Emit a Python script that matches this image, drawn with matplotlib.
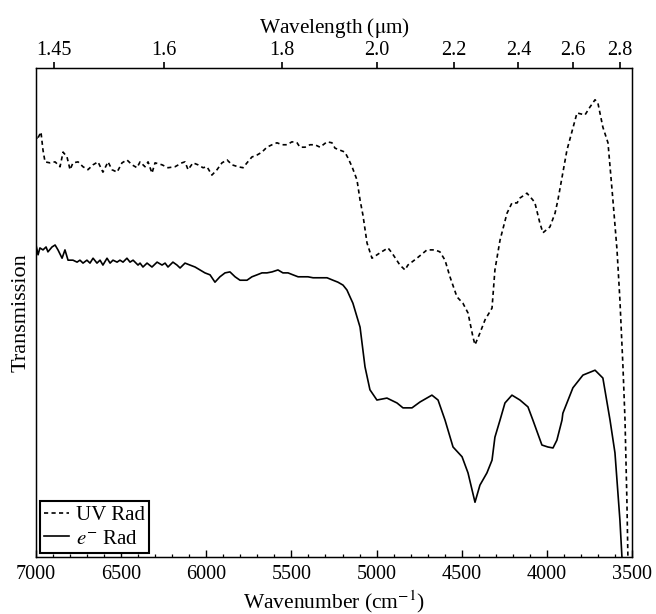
import numpy as np
import matplotlib
matplotlib.use("Agg")
import matplotlib.pyplot as plt

plt.rcParams["font.family"] = ["Liberation Serif", "DejaVu Serif"]
plt.rcParams["mathtext.fontset"] = "stix"

# --- data (wavenumber in cm^-1, transmission in arb. units) ---
uv_wn = [7000, 6994, 6971, 6959, 6947, 6918, 6888, 6859, 6841, 6818, 6800, 6783,
         6753, 6724, 6695, 6665, 6636, 6607, 6577, 6554, 6524, 6495, 6466, 6436,
         6407, 6389, 6360, 6342, 6319, 6301, 6260, 6225, 6184, 6143, 6125, 6107,
         6078, 6049, 6019, 5996, 5967, 5937, 5908, 5878, 5849, 5814, 5784, 5761,
         5732, 5702, 5673, 5644, 5614, 5585, 5555, 5526, 5497, 5467, 5450, 5420,
         5391, 5362, 5332, 5291, 5262, 5244, 5215, 5186, 5168, 5144, 5115, 5097,
         5080, 5056, 5027, 4980, 4933, 4910, 4863, 4833, 4816, 4763, 4704, 4657,
         4628, 4598, 4569, 4528, 4493, 4463, 4434, 4422, 4393, 4363, 4322, 4305,
         4275, 4234, 4205, 4175, 4158, 4117, 4082, 4070, 4041, 4023, 3982, 3952,
         3935, 3882, 3823, 3776, 3747, 3717, 3700, 3671, 3641, 3612, 3588, 3571,
         3553, 3541, 3530, 3524, 3521]
uv_tr = [86.3, 85.3, 86.9, 83.2, 80.8, 80.6, 80.8, 79.8, 82.8, 81.8, 79.2, 80.6,
         80.8, 79.8, 79.2, 80.2, 80.8, 78.7, 80.8, 79.2, 78.7, 80.6, 81.2, 80.2,
         79.6, 80.8, 79.8, 80.8, 78.5, 80.6, 80.2, 79.6, 79.8, 80.6, 80.8, 79.2,
         80.6, 80.2, 79.6, 79.8, 78.1, 79.2, 80.6, 81.2, 80.2, 79.8, 79.6, 80.6,
         81.8, 82.2, 82.8, 83.8, 84.3, 84.7, 84.3, 84.3, 84.9, 84.7, 83.8, 83.8,
         84.3, 84.3, 83.8, 84.9, 84.7, 83.6, 83.2, 82.8, 81.6, 79.8, 77.1, 73.0,
         69.9, 64.2, 61.1, 62.2, 63.2, 62.2, 59.7, 58.7, 59.7, 61.1, 62.8, 62.8,
         62.4, 60.7, 57.3, 53.2, 51.9, 49.9, 45.0, 43.4, 45.8, 48.5, 50.9, 58.7,
         64.8, 70.3, 72.4, 72.4, 73.4, 74.4, 73.0, 72.4, 68.3, 66.3, 67.5, 70.3,
         73.0, 83.2, 90.8, 90.4, 92.0, 93.5, 92.8, 87.9, 84.7, 73.0, 62.8, 52.6,
         38.9, 28.0, 11.7, 0.0, -5.0]

e_wn = [7000, 6988, 6977, 6959, 6941, 6930, 6906, 6888, 6871, 6847, 6830, 6812,
        6783, 6759, 6742, 6724, 6701, 6683, 6665, 6642, 6624, 6607, 6583, 6565,
        6548, 6524, 6507, 6489, 6466, 6448, 6430, 6401, 6389, 6372, 6348, 6319,
        6289, 6260, 6242, 6225, 6196, 6172, 6154, 6125, 6096, 6066, 6037, 6008,
        5978, 5949, 5920, 5890, 5861, 5831, 5802, 5784, 5761, 5732, 5702, 5673,
        5644, 5614, 5579, 5550, 5520, 5491, 5461, 5432, 5403, 5373, 5332, 5291,
        5256, 5227, 5197, 5174, 5156, 5139, 5097, 5068, 5039, 4998, 4939, 4880,
        4845, 4792, 4745, 4675, 4639, 4598, 4551, 4498, 4463, 4422, 4393, 4352,
        4322, 4305, 4275, 4246, 4205, 4158, 4111, 4082, 4029, 3994, 3964, 3941,
        3911, 3906, 3847, 3788, 3717, 3671, 3629, 3600, 3571, 3559, 3553]
e_tr = [63.8, 61.8, 63.2, 62.8, 63.4, 62.4, 63.4, 63.8, 62.8, 61.1, 62.8, 60.7,
        60.7, 60.3, 60.7, 60.1, 60.7, 60.1, 61.1, 60.1, 60.7, 59.7, 61.1, 60.1,
        60.7, 60.3, 60.7, 60.3, 61.1, 60.3, 60.7, 59.7, 60.1, 59.3, 60.1, 59.3,
        60.3, 59.7, 60.1, 59.3, 60.3, 59.7, 59.1, 60.1, 59.7, 59.3, 58.7, 58.1,
        57.7, 56.2, 57.3, 58.1, 58.3, 57.3, 56.6, 56.6, 56.6, 57.3, 57.7, 58.1,
        58.1, 58.3, 58.7, 58.1, 58.1, 57.7, 57.3, 57.3, 57.3, 57.1, 57.1, 57.1,
        56.6, 56.2, 55.6, 54.6, 53.2, 51.9, 47.0, 38.9, 34.2, 32.1, 32.5, 31.5,
        30.5, 30.5, 31.7, 33.1, 32.1, 28.0, 22.5, 20.5, 17.2, 11.2, 14.7, 17.2,
        19.8, 24.5, 28.0, 31.5, 33.1, 32.1, 30.7, 28.0, 22.9, 22.5, 22.3, 23.9,
        28.0, 29.4, 34.6, 37.2, 38.2, 36.6, 28.0, 21.3, 7.6, 0.0, -5.0]

wl_ticks = [1.45, 1.6, 1.8, 2.0, 2.2, 2.4, 2.6, 2.8]
wl_labels = ["1.45", "1.6", "1.8", "2.0", "2.2", "2.4", "2.6", "2.8"]

fig = plt.figure(figsize=(6.56, 6.14), dpi=100)
ax = fig.add_axes([0.0549, 0.0928, 0.9085, 0.7965])

ax.plot(uv_wn, uv_tr, color="black", lw=1.2, ls=(0, (2.5, 2.0)), label="UV Rad")
ax.plot(e_wn, e_tr, color="black", lw=1.2, label=r"$e^{-}$ Rad")

ax.set_xlim(7000, 3500)
ax.set_ylim(0, 100)
ax.set_yticks([])
ax.set_xticks(np.arange(7000, 3499, -500))
ax.set_xticks(np.arange(7000, 3499, -100), minor=True)
ax.tick_params(axis="x", which="both", direction="in", top=True, labeltop=False,
               labelsize=14.5, pad=6)
ax.tick_params(axis="x", which="major", length=5, width=1.0)
ax.tick_params(axis="x", which="minor", length=2.5, width=0.9)
for s in ax.spines.values():
    s.set_linewidth(1.0)

ax.set_xlabel(r"Wavenumber (cm$^{-1}$)", fontsize=15.5, labelpad=3)
ax.set_ylabel("Transmission", fontsize=16, labelpad=4)

# top axis: wavelength in micrometres
ax2 = ax.twiny()
ax2.set_xlim(ax.get_xlim())
ax2.set_xticks([1e4 / w for w in wl_ticks])
ax2.set_xticklabels(wl_labels)
ax2.tick_params(axis="x", direction="out", length=4, width=1.2, labelsize=14.5, pad=1.5)
ax2.minorticks_off()
ax2.set_xlabel(r"Wavelength ($\mathrm{\mu}$m)", fontsize=15.3, labelpad=6)

leg = ax.legend(loc="lower left", fontsize=15, frameon=True, fancybox=False,
                edgecolor="black", handlelength=1.2, handletextpad=0.3,
                borderaxespad=0.2, borderpad=0.2, labelspacing=0.2)
leg.get_frame().set_linewidth(1.5)
leg.get_frame().set_alpha(1)

fig.savefig("out.png", dpi=100)
